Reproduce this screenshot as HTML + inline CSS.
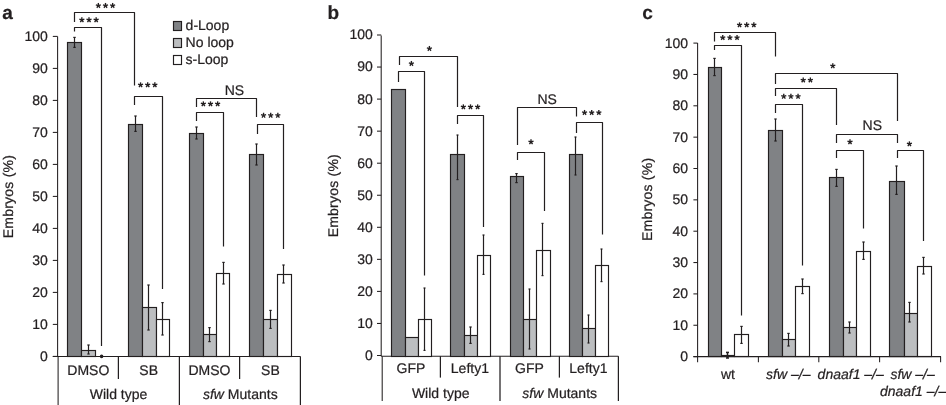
<!DOCTYPE html>
<html><head><meta charset="utf-8"><title>Figure</title>
<style>
html,body{margin:0;padding:0;background:#fff;}
body{width:946px;height:405px;overflow:hidden;}
svg{display:block;font-family:"Liberation Sans",sans-serif;will-change:transform;opacity:0.999;text-rendering:geometricPrecision;}
svg text{fill:#231f20;stroke:#231f20;stroke-width:0.22px;}
</style></head><body>
<svg width="946" height="405" viewBox="0 0 946 405">
<rect x="0" y="0" width="946" height="405" fill="#ffffff"/>
<text x="2.20" y="19.20" text-anchor="start" font-size="19" font-weight="bold" font-style="normal" >a</text>
<line x1="57.60" y1="36.40" x2="57.60" y2="356.40" stroke="#231f20" stroke-width="1.05"/>
<line x1="58.10" y1="356.40" x2="58.10" y2="405.00" stroke="#231f20" stroke-width="1.05"/>
<line x1="52.80" y1="356.40" x2="57.60" y2="356.40" stroke="#231f20" stroke-width="1.05"/>
<text x="47.80" y="360.90" text-anchor="end" font-size="14" font-weight="normal" font-style="normal" >0</text>
<line x1="52.80" y1="324.40" x2="57.60" y2="324.40" stroke="#231f20" stroke-width="1.05"/>
<text x="47.80" y="328.90" text-anchor="end" font-size="14" font-weight="normal" font-style="normal" >10</text>
<line x1="52.80" y1="292.40" x2="57.60" y2="292.40" stroke="#231f20" stroke-width="1.05"/>
<text x="47.80" y="296.90" text-anchor="end" font-size="14" font-weight="normal" font-style="normal" >20</text>
<line x1="52.80" y1="260.40" x2="57.60" y2="260.40" stroke="#231f20" stroke-width="1.05"/>
<text x="47.80" y="264.90" text-anchor="end" font-size="14" font-weight="normal" font-style="normal" >30</text>
<line x1="52.80" y1="228.40" x2="57.60" y2="228.40" stroke="#231f20" stroke-width="1.05"/>
<text x="47.80" y="232.90" text-anchor="end" font-size="14" font-weight="normal" font-style="normal" >40</text>
<line x1="52.80" y1="196.40" x2="57.60" y2="196.40" stroke="#231f20" stroke-width="1.05"/>
<text x="47.80" y="200.90" text-anchor="end" font-size="14" font-weight="normal" font-style="normal" >50</text>
<line x1="52.80" y1="164.40" x2="57.60" y2="164.40" stroke="#231f20" stroke-width="1.05"/>
<text x="47.80" y="168.90" text-anchor="end" font-size="14" font-weight="normal" font-style="normal" >60</text>
<line x1="52.80" y1="132.40" x2="57.60" y2="132.40" stroke="#231f20" stroke-width="1.05"/>
<text x="47.80" y="136.90" text-anchor="end" font-size="14" font-weight="normal" font-style="normal" >70</text>
<line x1="52.80" y1="100.40" x2="57.60" y2="100.40" stroke="#231f20" stroke-width="1.05"/>
<text x="47.80" y="104.90" text-anchor="end" font-size="14" font-weight="normal" font-style="normal" >80</text>
<line x1="52.80" y1="68.40" x2="57.60" y2="68.40" stroke="#231f20" stroke-width="1.05"/>
<text x="47.80" y="72.90" text-anchor="end" font-size="14" font-weight="normal" font-style="normal" >90</text>
<line x1="52.80" y1="36.40" x2="57.60" y2="36.40" stroke="#231f20" stroke-width="1.05"/>
<text x="47.80" y="40.90" text-anchor="end" font-size="14" font-weight="normal" font-style="normal" >100</text>
<line x1="52.80" y1="356.40" x2="300.40" y2="356.40" stroke="#231f20" stroke-width="1.05"/>
<text x="0.00" y="0.00" text-anchor="middle" font-size="14" font-weight="normal" font-style="normal" letter-spacing="0.22" transform="translate(12.6,196.6) rotate(-90)">Embryos (%)</text>
<line x1="118.40" y1="356.40" x2="118.40" y2="379.00" stroke="#231f20" stroke-width="1.25"/>
<line x1="239.60" y1="356.40" x2="239.60" y2="379.00" stroke="#231f20" stroke-width="1.25"/>
<line x1="179.40" y1="356.40" x2="179.40" y2="405.00" stroke="#231f20" stroke-width="1.25"/>
<line x1="300.40" y1="356.40" x2="300.40" y2="405.00" stroke="#231f20" stroke-width="1.25"/>
<rect x="67.50" y="42.50" width="14.00" height="314.00" fill="#808285" stroke="#231f20" stroke-width="1.15"/>
<rect x="81.50" y="350.50" width="14.00" height="6.00" fill="#bcbec0" stroke="#231f20" stroke-width="1.15"/>
<rect x="128.50" y="124.50" width="14.00" height="232.00" fill="#808285" stroke="#231f20" stroke-width="1.15"/>
<rect x="142.50" y="307.50" width="14.00" height="49.00" fill="#bcbec0" stroke="#231f20" stroke-width="1.15"/>
<rect x="156.50" y="319.50" width="13.00" height="37.00" fill="#ffffff" stroke="#231f20" stroke-width="1.15"/>
<rect x="189.50" y="133.50" width="14.00" height="223.00" fill="#808285" stroke="#231f20" stroke-width="1.15"/>
<rect x="203.50" y="334.50" width="13.00" height="22.00" fill="#bcbec0" stroke="#231f20" stroke-width="1.15"/>
<rect x="216.50" y="273.50" width="13.00" height="83.00" fill="#ffffff" stroke="#231f20" stroke-width="1.15"/>
<rect x="249.50" y="154.50" width="14.00" height="202.00" fill="#808285" stroke="#231f20" stroke-width="1.15"/>
<rect x="263.50" y="319.50" width="14.00" height="37.00" fill="#bcbec0" stroke="#231f20" stroke-width="1.15"/>
<rect x="277.50" y="274.50" width="14.00" height="82.00" fill="#ffffff" stroke="#231f20" stroke-width="1.15"/>
<line x1="74.50" y1="37.40" x2="74.50" y2="47.40" stroke="#231f20" stroke-width="1.2"/>
<line x1="73.30" y1="37.40" x2="75.70" y2="37.40" stroke="#231f20" stroke-width="1.2"/>
<line x1="73.30" y1="47.40" x2="75.70" y2="47.40" stroke="#231f20" stroke-width="1.2"/>
<line x1="88.50" y1="345.00" x2="88.50" y2="354.00" stroke="#231f20" stroke-width="1.2"/>
<line x1="87.30" y1="345.00" x2="89.70" y2="345.00" stroke="#231f20" stroke-width="1.2"/>
<line x1="87.30" y1="354.00" x2="89.70" y2="354.00" stroke="#231f20" stroke-width="1.2"/>
<circle cx="101.6" cy="356.4" r="1.8" fill="#231f20"/>
<line x1="135.50" y1="116.00" x2="135.50" y2="131.40" stroke="#231f20" stroke-width="1.2"/>
<line x1="134.30" y1="116.00" x2="136.70" y2="116.00" stroke="#231f20" stroke-width="1.2"/>
<line x1="134.30" y1="131.40" x2="136.70" y2="131.40" stroke="#231f20" stroke-width="1.2"/>
<line x1="148.50" y1="285.00" x2="148.50" y2="330.00" stroke="#231f20" stroke-width="1.2"/>
<line x1="147.30" y1="285.00" x2="149.70" y2="285.00" stroke="#231f20" stroke-width="1.2"/>
<line x1="147.30" y1="330.00" x2="149.70" y2="330.00" stroke="#231f20" stroke-width="1.2"/>
<line x1="162.50" y1="302.60" x2="162.50" y2="335.00" stroke="#231f20" stroke-width="1.2"/>
<line x1="161.30" y1="302.60" x2="163.70" y2="302.60" stroke="#231f20" stroke-width="1.2"/>
<line x1="161.30" y1="335.00" x2="163.70" y2="335.00" stroke="#231f20" stroke-width="1.2"/>
<line x1="196.50" y1="127.00" x2="196.50" y2="139.00" stroke="#231f20" stroke-width="1.2"/>
<line x1="195.30" y1="127.00" x2="197.70" y2="127.00" stroke="#231f20" stroke-width="1.2"/>
<line x1="195.30" y1="139.00" x2="197.70" y2="139.00" stroke="#231f20" stroke-width="1.2"/>
<line x1="209.50" y1="327.60" x2="209.50" y2="341.60" stroke="#231f20" stroke-width="1.2"/>
<line x1="208.30" y1="327.60" x2="210.70" y2="327.60" stroke="#231f20" stroke-width="1.2"/>
<line x1="208.30" y1="341.60" x2="210.70" y2="341.60" stroke="#231f20" stroke-width="1.2"/>
<line x1="223.50" y1="262.40" x2="223.50" y2="284.00" stroke="#231f20" stroke-width="1.2"/>
<line x1="222.30" y1="262.40" x2="224.70" y2="262.40" stroke="#231f20" stroke-width="1.2"/>
<line x1="222.30" y1="284.00" x2="224.70" y2="284.00" stroke="#231f20" stroke-width="1.2"/>
<line x1="256.50" y1="144.00" x2="256.50" y2="165.00" stroke="#231f20" stroke-width="1.2"/>
<line x1="255.30" y1="144.00" x2="257.70" y2="144.00" stroke="#231f20" stroke-width="1.2"/>
<line x1="255.30" y1="165.00" x2="257.70" y2="165.00" stroke="#231f20" stroke-width="1.2"/>
<line x1="270.50" y1="310.40" x2="270.50" y2="328.40" stroke="#231f20" stroke-width="1.2"/>
<line x1="269.30" y1="310.40" x2="271.70" y2="310.40" stroke="#231f20" stroke-width="1.2"/>
<line x1="269.30" y1="328.40" x2="271.70" y2="328.40" stroke="#231f20" stroke-width="1.2"/>
<line x1="283.50" y1="265.00" x2="283.50" y2="283.00" stroke="#231f20" stroke-width="1.2"/>
<line x1="282.30" y1="265.00" x2="284.70" y2="265.00" stroke="#231f20" stroke-width="1.2"/>
<line x1="282.30" y1="283.00" x2="284.70" y2="283.00" stroke="#231f20" stroke-width="1.2"/>
<polyline points="74.50,22.00 74.50,12.50 134.50,12.50 134.50,85.50" fill="none" stroke="#231f20" stroke-width="1.2" stroke-linejoin="round"/>
<polyline points="74.50,31.60 74.50,27.50 101.50,27.50 101.50,346.00" fill="none" stroke="#231f20" stroke-width="1.2" stroke-linejoin="round"/>
<polyline points="134.50,105.00 134.50,96.50 162.50,96.50 162.50,289.00" fill="none" stroke="#231f20" stroke-width="1.2" stroke-linejoin="round"/>
<polyline points="196.50,107.00 196.50,98.50 256.50,98.50 256.50,117.00" fill="none" stroke="#231f20" stroke-width="1.2" stroke-linejoin="round"/>
<polyline points="196.50,121.00 196.50,112.50 223.50,112.50 223.50,246.60" fill="none" stroke="#231f20" stroke-width="1.2" stroke-linejoin="round"/>
<polyline points="257.50,134.00 257.50,124.50 283.50,124.50 283.50,249.00" fill="none" stroke="#231f20" stroke-width="1.2" stroke-linejoin="round"/>
<line x1="98.35" y1="5.60" x2="98.35" y2="2.95" stroke="#231f20" stroke-width="1.35"/>
<line x1="98.35" y1="5.60" x2="100.87" y2="4.78" stroke="#231f20" stroke-width="1.35"/>
<line x1="98.35" y1="5.60" x2="99.91" y2="7.74" stroke="#231f20" stroke-width="1.35"/>
<line x1="98.35" y1="5.60" x2="96.79" y2="7.74" stroke="#231f20" stroke-width="1.35"/>
<line x1="98.35" y1="5.60" x2="95.83" y2="4.78" stroke="#231f20" stroke-width="1.35"/>
<line x1="105.50" y1="5.60" x2="105.50" y2="2.95" stroke="#231f20" stroke-width="1.35"/>
<line x1="105.50" y1="5.60" x2="108.02" y2="4.78" stroke="#231f20" stroke-width="1.35"/>
<line x1="105.50" y1="5.60" x2="107.06" y2="7.74" stroke="#231f20" stroke-width="1.35"/>
<line x1="105.50" y1="5.60" x2="103.94" y2="7.74" stroke="#231f20" stroke-width="1.35"/>
<line x1="105.50" y1="5.60" x2="102.98" y2="4.78" stroke="#231f20" stroke-width="1.35"/>
<line x1="112.65" y1="5.60" x2="112.65" y2="2.95" stroke="#231f20" stroke-width="1.35"/>
<line x1="112.65" y1="5.60" x2="115.17" y2="4.78" stroke="#231f20" stroke-width="1.35"/>
<line x1="112.65" y1="5.60" x2="114.21" y2="7.74" stroke="#231f20" stroke-width="1.35"/>
<line x1="112.65" y1="5.60" x2="111.09" y2="7.74" stroke="#231f20" stroke-width="1.35"/>
<line x1="112.65" y1="5.60" x2="110.13" y2="4.78" stroke="#231f20" stroke-width="1.35"/>
<line x1="81.85" y1="20.00" x2="81.85" y2="17.35" stroke="#231f20" stroke-width="1.35"/>
<line x1="81.85" y1="20.00" x2="84.37" y2="19.18" stroke="#231f20" stroke-width="1.35"/>
<line x1="81.85" y1="20.00" x2="83.41" y2="22.14" stroke="#231f20" stroke-width="1.35"/>
<line x1="81.85" y1="20.00" x2="80.29" y2="22.14" stroke="#231f20" stroke-width="1.35"/>
<line x1="81.85" y1="20.00" x2="79.33" y2="19.18" stroke="#231f20" stroke-width="1.35"/>
<line x1="89.00" y1="20.00" x2="89.00" y2="17.35" stroke="#231f20" stroke-width="1.35"/>
<line x1="89.00" y1="20.00" x2="91.52" y2="19.18" stroke="#231f20" stroke-width="1.35"/>
<line x1="89.00" y1="20.00" x2="90.56" y2="22.14" stroke="#231f20" stroke-width="1.35"/>
<line x1="89.00" y1="20.00" x2="87.44" y2="22.14" stroke="#231f20" stroke-width="1.35"/>
<line x1="89.00" y1="20.00" x2="86.48" y2="19.18" stroke="#231f20" stroke-width="1.35"/>
<line x1="96.15" y1="20.00" x2="96.15" y2="17.35" stroke="#231f20" stroke-width="1.35"/>
<line x1="96.15" y1="20.00" x2="98.67" y2="19.18" stroke="#231f20" stroke-width="1.35"/>
<line x1="96.15" y1="20.00" x2="97.71" y2="22.14" stroke="#231f20" stroke-width="1.35"/>
<line x1="96.15" y1="20.00" x2="94.59" y2="22.14" stroke="#231f20" stroke-width="1.35"/>
<line x1="96.15" y1="20.00" x2="93.63" y2="19.18" stroke="#231f20" stroke-width="1.35"/>
<line x1="140.55" y1="85.00" x2="140.55" y2="82.35" stroke="#231f20" stroke-width="1.35"/>
<line x1="140.55" y1="85.00" x2="143.07" y2="84.18" stroke="#231f20" stroke-width="1.35"/>
<line x1="140.55" y1="85.00" x2="142.11" y2="87.14" stroke="#231f20" stroke-width="1.35"/>
<line x1="140.55" y1="85.00" x2="138.99" y2="87.14" stroke="#231f20" stroke-width="1.35"/>
<line x1="140.55" y1="85.00" x2="138.03" y2="84.18" stroke="#231f20" stroke-width="1.35"/>
<line x1="147.70" y1="85.00" x2="147.70" y2="82.35" stroke="#231f20" stroke-width="1.35"/>
<line x1="147.70" y1="85.00" x2="150.22" y2="84.18" stroke="#231f20" stroke-width="1.35"/>
<line x1="147.70" y1="85.00" x2="149.26" y2="87.14" stroke="#231f20" stroke-width="1.35"/>
<line x1="147.70" y1="85.00" x2="146.14" y2="87.14" stroke="#231f20" stroke-width="1.35"/>
<line x1="147.70" y1="85.00" x2="145.18" y2="84.18" stroke="#231f20" stroke-width="1.35"/>
<line x1="154.85" y1="85.00" x2="154.85" y2="82.35" stroke="#231f20" stroke-width="1.35"/>
<line x1="154.85" y1="85.00" x2="157.37" y2="84.18" stroke="#231f20" stroke-width="1.35"/>
<line x1="154.85" y1="85.00" x2="156.41" y2="87.14" stroke="#231f20" stroke-width="1.35"/>
<line x1="154.85" y1="85.00" x2="153.29" y2="87.14" stroke="#231f20" stroke-width="1.35"/>
<line x1="154.85" y1="85.00" x2="152.33" y2="84.18" stroke="#231f20" stroke-width="1.35"/>
<line x1="203.35" y1="104.00" x2="203.35" y2="101.35" stroke="#231f20" stroke-width="1.35"/>
<line x1="203.35" y1="104.00" x2="205.87" y2="103.18" stroke="#231f20" stroke-width="1.35"/>
<line x1="203.35" y1="104.00" x2="204.91" y2="106.14" stroke="#231f20" stroke-width="1.35"/>
<line x1="203.35" y1="104.00" x2="201.79" y2="106.14" stroke="#231f20" stroke-width="1.35"/>
<line x1="203.35" y1="104.00" x2="200.83" y2="103.18" stroke="#231f20" stroke-width="1.35"/>
<line x1="210.50" y1="104.00" x2="210.50" y2="101.35" stroke="#231f20" stroke-width="1.35"/>
<line x1="210.50" y1="104.00" x2="213.02" y2="103.18" stroke="#231f20" stroke-width="1.35"/>
<line x1="210.50" y1="104.00" x2="212.06" y2="106.14" stroke="#231f20" stroke-width="1.35"/>
<line x1="210.50" y1="104.00" x2="208.94" y2="106.14" stroke="#231f20" stroke-width="1.35"/>
<line x1="210.50" y1="104.00" x2="207.98" y2="103.18" stroke="#231f20" stroke-width="1.35"/>
<line x1="217.65" y1="104.00" x2="217.65" y2="101.35" stroke="#231f20" stroke-width="1.35"/>
<line x1="217.65" y1="104.00" x2="220.17" y2="103.18" stroke="#231f20" stroke-width="1.35"/>
<line x1="217.65" y1="104.00" x2="219.21" y2="106.14" stroke="#231f20" stroke-width="1.35"/>
<line x1="217.65" y1="104.00" x2="216.09" y2="106.14" stroke="#231f20" stroke-width="1.35"/>
<line x1="217.65" y1="104.00" x2="215.13" y2="103.18" stroke="#231f20" stroke-width="1.35"/>
<line x1="263.55" y1="115.40" x2="263.55" y2="112.75" stroke="#231f20" stroke-width="1.35"/>
<line x1="263.55" y1="115.40" x2="266.07" y2="114.58" stroke="#231f20" stroke-width="1.35"/>
<line x1="263.55" y1="115.40" x2="265.11" y2="117.54" stroke="#231f20" stroke-width="1.35"/>
<line x1="263.55" y1="115.40" x2="261.99" y2="117.54" stroke="#231f20" stroke-width="1.35"/>
<line x1="263.55" y1="115.40" x2="261.03" y2="114.58" stroke="#231f20" stroke-width="1.35"/>
<line x1="270.70" y1="115.40" x2="270.70" y2="112.75" stroke="#231f20" stroke-width="1.35"/>
<line x1="270.70" y1="115.40" x2="273.22" y2="114.58" stroke="#231f20" stroke-width="1.35"/>
<line x1="270.70" y1="115.40" x2="272.26" y2="117.54" stroke="#231f20" stroke-width="1.35"/>
<line x1="270.70" y1="115.40" x2="269.14" y2="117.54" stroke="#231f20" stroke-width="1.35"/>
<line x1="270.70" y1="115.40" x2="268.18" y2="114.58" stroke="#231f20" stroke-width="1.35"/>
<line x1="277.85" y1="115.40" x2="277.85" y2="112.75" stroke="#231f20" stroke-width="1.35"/>
<line x1="277.85" y1="115.40" x2="280.37" y2="114.58" stroke="#231f20" stroke-width="1.35"/>
<line x1="277.85" y1="115.40" x2="279.41" y2="117.54" stroke="#231f20" stroke-width="1.35"/>
<line x1="277.85" y1="115.40" x2="276.29" y2="117.54" stroke="#231f20" stroke-width="1.35"/>
<line x1="277.85" y1="115.40" x2="275.33" y2="114.58" stroke="#231f20" stroke-width="1.35"/>
<text x="234.40" y="94.70" text-anchor="middle" font-size="14" font-weight="normal" font-style="normal" >NS</text>
<rect x="173.50" y="21.50" width="8.00" height="9.00" fill="#808285" stroke="#231f20" stroke-width="1.15"/>
<text x="185.60" y="30.10" text-anchor="start" font-size="14" font-weight="normal" font-style="normal" >d-Loop</text>
<rect x="173.50" y="38.50" width="8.00" height="9.00" fill="#bcbec0" stroke="#231f20" stroke-width="1.15"/>
<text x="185.60" y="47.10" text-anchor="start" font-size="14" font-weight="normal" font-style="normal" >No loop</text>
<rect x="173.50" y="55.50" width="8.00" height="9.00" fill="#ffffff" stroke="#231f20" stroke-width="1.15"/>
<text x="185.60" y="64.10" text-anchor="start" font-size="14" font-weight="normal" font-style="normal" >s-Loop</text>
<text x="88.30" y="374.50" text-anchor="middle" font-size="14" font-weight="normal" font-style="normal" >DMSO</text>
<text x="148.70" y="374.50" text-anchor="middle" font-size="14" font-weight="normal" font-style="normal" >SB</text>
<text x="209.50" y="374.50" text-anchor="middle" font-size="14" font-weight="normal" font-style="normal" >DMSO</text>
<text x="270.40" y="374.50" text-anchor="middle" font-size="14" font-weight="normal" font-style="normal" >SB</text>
<text x="118.50" y="399.00" text-anchor="middle" font-size="14" font-weight="normal" font-style="normal" >Wild type</text>
<text x="240.3" y="399" text-anchor="middle" font-size="14"><tspan font-style="italic">sfw</tspan> Mutants</text>
<text x="327.50" y="19.00" text-anchor="start" font-size="19" font-weight="bold" font-style="normal" >b</text>
<line x1="381.20" y1="35.50" x2="381.20" y2="356.20" stroke="#231f20" stroke-width="1.05"/>
<line x1="382.20" y1="356.20" x2="382.20" y2="401.00" stroke="#231f20" stroke-width="1.05"/>
<line x1="377.00" y1="355.50" x2="381.20" y2="355.50" stroke="#231f20" stroke-width="1.05"/>
<text x="372.80" y="359.90" text-anchor="end" font-size="14" font-weight="normal" font-style="normal" >0</text>
<line x1="377.00" y1="323.45" x2="381.20" y2="323.45" stroke="#231f20" stroke-width="1.05"/>
<text x="372.80" y="327.85" text-anchor="end" font-size="14" font-weight="normal" font-style="normal" >10</text>
<line x1="377.00" y1="291.40" x2="381.20" y2="291.40" stroke="#231f20" stroke-width="1.05"/>
<text x="372.80" y="295.80" text-anchor="end" font-size="14" font-weight="normal" font-style="normal" >20</text>
<line x1="377.00" y1="259.35" x2="381.20" y2="259.35" stroke="#231f20" stroke-width="1.05"/>
<text x="372.80" y="263.75" text-anchor="end" font-size="14" font-weight="normal" font-style="normal" >30</text>
<line x1="377.00" y1="227.30" x2="381.20" y2="227.30" stroke="#231f20" stroke-width="1.05"/>
<text x="372.80" y="231.70" text-anchor="end" font-size="14" font-weight="normal" font-style="normal" >40</text>
<line x1="377.00" y1="195.25" x2="381.20" y2="195.25" stroke="#231f20" stroke-width="1.05"/>
<text x="372.80" y="199.65" text-anchor="end" font-size="14" font-weight="normal" font-style="normal" >50</text>
<line x1="377.00" y1="163.20" x2="381.20" y2="163.20" stroke="#231f20" stroke-width="1.05"/>
<text x="372.80" y="167.60" text-anchor="end" font-size="14" font-weight="normal" font-style="normal" >60</text>
<line x1="377.00" y1="131.15" x2="381.20" y2="131.15" stroke="#231f20" stroke-width="1.05"/>
<text x="372.80" y="135.55" text-anchor="end" font-size="14" font-weight="normal" font-style="normal" >70</text>
<line x1="377.00" y1="99.10" x2="381.20" y2="99.10" stroke="#231f20" stroke-width="1.05"/>
<text x="372.80" y="103.50" text-anchor="end" font-size="14" font-weight="normal" font-style="normal" >80</text>
<line x1="377.00" y1="67.05" x2="381.20" y2="67.05" stroke="#231f20" stroke-width="1.05"/>
<text x="372.80" y="71.45" text-anchor="end" font-size="14" font-weight="normal" font-style="normal" >90</text>
<line x1="377.00" y1="35.00" x2="381.20" y2="35.00" stroke="#231f20" stroke-width="1.05"/>
<text x="372.80" y="39.40" text-anchor="end" font-size="14" font-weight="normal" font-style="normal" >100</text>
<line x1="381.20" y1="356.20" x2="618.40" y2="356.20" stroke="#231f20" stroke-width="1.05"/>
<text x="0.00" y="0.00" text-anchor="middle" font-size="14" font-weight="normal" font-style="normal" letter-spacing="0.22" transform="translate(338.3,195.7) rotate(-90)">Embryos (%)</text>
<line x1="440.40" y1="356.20" x2="440.40" y2="377.60" stroke="#231f20" stroke-width="1.25"/>
<line x1="559.40" y1="356.20" x2="559.40" y2="377.60" stroke="#231f20" stroke-width="1.25"/>
<line x1="500.00" y1="356.20" x2="500.00" y2="401.00" stroke="#231f20" stroke-width="1.25"/>
<line x1="618.40" y1="356.20" x2="618.40" y2="401.00" stroke="#231f20" stroke-width="1.25"/>
<rect x="391.50" y="89.50" width="14.00" height="267.00" fill="#808285" stroke="#231f20" stroke-width="1.15"/>
<rect x="405.50" y="337.50" width="13.00" height="19.00" fill="#bcbec0" stroke="#231f20" stroke-width="1.15"/>
<rect x="418.50" y="319.50" width="13.00" height="37.00" fill="#ffffff" stroke="#231f20" stroke-width="1.15"/>
<rect x="450.50" y="154.50" width="14.00" height="202.00" fill="#808285" stroke="#231f20" stroke-width="1.15"/>
<rect x="464.50" y="335.50" width="13.00" height="21.00" fill="#bcbec0" stroke="#231f20" stroke-width="1.15"/>
<rect x="477.50" y="255.50" width="13.00" height="101.00" fill="#ffffff" stroke="#231f20" stroke-width="1.15"/>
<rect x="510.50" y="176.50" width="13.00" height="180.00" fill="#808285" stroke="#231f20" stroke-width="1.15"/>
<rect x="523.50" y="319.50" width="13.00" height="37.00" fill="#bcbec0" stroke="#231f20" stroke-width="1.15"/>
<rect x="536.50" y="250.50" width="14.00" height="106.00" fill="#ffffff" stroke="#231f20" stroke-width="1.15"/>
<rect x="569.50" y="154.50" width="13.00" height="202.00" fill="#808285" stroke="#231f20" stroke-width="1.15"/>
<rect x="582.50" y="328.50" width="13.00" height="28.00" fill="#bcbec0" stroke="#231f20" stroke-width="1.15"/>
<rect x="595.50" y="265.50" width="13.00" height="91.00" fill="#ffffff" stroke="#231f20" stroke-width="1.15"/>
<line x1="424.50" y1="288.00" x2="424.50" y2="350.40" stroke="#231f20" stroke-width="1.2"/>
<line x1="423.50" y1="288.00" x2="425.50" y2="288.00" stroke="#231f20" stroke-width="1.2"/>
<line x1="423.50" y1="350.40" x2="425.50" y2="350.40" stroke="#231f20" stroke-width="1.2"/>
<line x1="457.50" y1="135.00" x2="457.50" y2="179.60" stroke="#231f20" stroke-width="1.2"/>
<line x1="456.50" y1="135.00" x2="458.50" y2="135.00" stroke="#231f20" stroke-width="1.2"/>
<line x1="456.50" y1="179.60" x2="458.50" y2="179.60" stroke="#231f20" stroke-width="1.2"/>
<line x1="470.50" y1="327.00" x2="470.50" y2="343.40" stroke="#231f20" stroke-width="1.2"/>
<line x1="469.30" y1="327.00" x2="471.70" y2="327.00" stroke="#231f20" stroke-width="1.2"/>
<line x1="469.30" y1="343.40" x2="471.70" y2="343.40" stroke="#231f20" stroke-width="1.2"/>
<line x1="483.50" y1="235.00" x2="483.50" y2="274.40" stroke="#231f20" stroke-width="1.2"/>
<line x1="482.50" y1="235.00" x2="484.50" y2="235.00" stroke="#231f20" stroke-width="1.2"/>
<line x1="482.50" y1="274.40" x2="484.50" y2="274.40" stroke="#231f20" stroke-width="1.2"/>
<line x1="516.50" y1="173.60" x2="516.50" y2="182.60" stroke="#231f20" stroke-width="1.2"/>
<line x1="515.30" y1="173.60" x2="517.70" y2="173.60" stroke="#231f20" stroke-width="1.2"/>
<line x1="515.30" y1="182.60" x2="517.70" y2="182.60" stroke="#231f20" stroke-width="1.2"/>
<line x1="529.50" y1="289.00" x2="529.50" y2="349.00" stroke="#231f20" stroke-width="1.2"/>
<line x1="528.50" y1="289.00" x2="530.50" y2="289.00" stroke="#231f20" stroke-width="1.2"/>
<line x1="528.50" y1="349.00" x2="530.50" y2="349.00" stroke="#231f20" stroke-width="1.2"/>
<line x1="542.50" y1="223.40" x2="542.50" y2="275.60" stroke="#231f20" stroke-width="1.2"/>
<line x1="541.50" y1="223.40" x2="543.50" y2="223.40" stroke="#231f20" stroke-width="1.2"/>
<line x1="541.50" y1="275.60" x2="543.50" y2="275.60" stroke="#231f20" stroke-width="1.2"/>
<line x1="575.50" y1="137.00" x2="575.50" y2="175.00" stroke="#231f20" stroke-width="1.2"/>
<line x1="574.50" y1="137.00" x2="576.50" y2="137.00" stroke="#231f20" stroke-width="1.2"/>
<line x1="574.50" y1="175.00" x2="576.50" y2="175.00" stroke="#231f20" stroke-width="1.2"/>
<line x1="588.50" y1="315.00" x2="588.50" y2="343.00" stroke="#231f20" stroke-width="1.2"/>
<line x1="587.50" y1="315.00" x2="589.50" y2="315.00" stroke="#231f20" stroke-width="1.2"/>
<line x1="587.50" y1="343.00" x2="589.50" y2="343.00" stroke="#231f20" stroke-width="1.2"/>
<line x1="601.50" y1="249.00" x2="601.50" y2="281.60" stroke="#231f20" stroke-width="1.2"/>
<line x1="600.50" y1="249.00" x2="602.50" y2="249.00" stroke="#231f20" stroke-width="1.2"/>
<line x1="600.50" y1="281.60" x2="602.50" y2="281.60" stroke="#231f20" stroke-width="1.2"/>
<polyline points="399.50,65.00 399.50,56.50 457.50,56.50 457.50,107.00" fill="none" stroke="#231f20" stroke-width="1.2" stroke-linejoin="round"/>
<polyline points="398.50,82.00 398.50,71.50 424.50,71.50 424.50,275.40" fill="none" stroke="#231f20" stroke-width="1.2" stroke-linejoin="round"/>
<polyline points="457.50,124.00 457.50,115.50 483.50,115.50 483.50,227.00" fill="none" stroke="#231f20" stroke-width="1.2" stroke-linejoin="round"/>
<polyline points="517.50,145.00 517.50,107.50 576.50,107.50 576.50,116.60" fill="none" stroke="#231f20" stroke-width="1.2" stroke-linejoin="round"/>
<polyline points="517.50,160.00 517.50,152.50 544.50,152.50 544.50,211.00" fill="none" stroke="#231f20" stroke-width="1.2" stroke-linejoin="round"/>
<polyline points="576.50,133.00 576.50,122.50 602.50,122.50 602.50,234.40" fill="none" stroke="#231f20" stroke-width="1.2" stroke-linejoin="round"/>
<line x1="429.40" y1="48.60" x2="429.40" y2="45.95" stroke="#231f20" stroke-width="1.35"/>
<line x1="429.40" y1="48.60" x2="431.92" y2="47.78" stroke="#231f20" stroke-width="1.35"/>
<line x1="429.40" y1="48.60" x2="430.96" y2="50.74" stroke="#231f20" stroke-width="1.35"/>
<line x1="429.40" y1="48.60" x2="427.84" y2="50.74" stroke="#231f20" stroke-width="1.35"/>
<line x1="429.40" y1="48.60" x2="426.88" y2="47.78" stroke="#231f20" stroke-width="1.35"/>
<line x1="411.40" y1="63.60" x2="411.40" y2="60.95" stroke="#231f20" stroke-width="1.35"/>
<line x1="411.40" y1="63.60" x2="413.92" y2="62.78" stroke="#231f20" stroke-width="1.35"/>
<line x1="411.40" y1="63.60" x2="412.96" y2="65.74" stroke="#231f20" stroke-width="1.35"/>
<line x1="411.40" y1="63.60" x2="409.84" y2="65.74" stroke="#231f20" stroke-width="1.35"/>
<line x1="411.40" y1="63.60" x2="408.88" y2="62.78" stroke="#231f20" stroke-width="1.35"/>
<line x1="463.35" y1="107.00" x2="463.35" y2="104.35" stroke="#231f20" stroke-width="1.35"/>
<line x1="463.35" y1="107.00" x2="465.87" y2="106.18" stroke="#231f20" stroke-width="1.35"/>
<line x1="463.35" y1="107.00" x2="464.91" y2="109.14" stroke="#231f20" stroke-width="1.35"/>
<line x1="463.35" y1="107.00" x2="461.79" y2="109.14" stroke="#231f20" stroke-width="1.35"/>
<line x1="463.35" y1="107.00" x2="460.83" y2="106.18" stroke="#231f20" stroke-width="1.35"/>
<line x1="470.50" y1="107.00" x2="470.50" y2="104.35" stroke="#231f20" stroke-width="1.35"/>
<line x1="470.50" y1="107.00" x2="473.02" y2="106.18" stroke="#231f20" stroke-width="1.35"/>
<line x1="470.50" y1="107.00" x2="472.06" y2="109.14" stroke="#231f20" stroke-width="1.35"/>
<line x1="470.50" y1="107.00" x2="468.94" y2="109.14" stroke="#231f20" stroke-width="1.35"/>
<line x1="470.50" y1="107.00" x2="467.98" y2="106.18" stroke="#231f20" stroke-width="1.35"/>
<line x1="477.65" y1="107.00" x2="477.65" y2="104.35" stroke="#231f20" stroke-width="1.35"/>
<line x1="477.65" y1="107.00" x2="480.17" y2="106.18" stroke="#231f20" stroke-width="1.35"/>
<line x1="477.65" y1="107.00" x2="479.21" y2="109.14" stroke="#231f20" stroke-width="1.35"/>
<line x1="477.65" y1="107.00" x2="476.09" y2="109.14" stroke="#231f20" stroke-width="1.35"/>
<line x1="477.65" y1="107.00" x2="475.13" y2="106.18" stroke="#231f20" stroke-width="1.35"/>
<line x1="531.00" y1="142.00" x2="531.00" y2="139.35" stroke="#231f20" stroke-width="1.35"/>
<line x1="531.00" y1="142.00" x2="533.52" y2="141.18" stroke="#231f20" stroke-width="1.35"/>
<line x1="531.00" y1="142.00" x2="532.56" y2="144.14" stroke="#231f20" stroke-width="1.35"/>
<line x1="531.00" y1="142.00" x2="529.44" y2="144.14" stroke="#231f20" stroke-width="1.35"/>
<line x1="531.00" y1="142.00" x2="528.48" y2="141.18" stroke="#231f20" stroke-width="1.35"/>
<line x1="584.55" y1="112.60" x2="584.55" y2="109.95" stroke="#231f20" stroke-width="1.35"/>
<line x1="584.55" y1="112.60" x2="587.07" y2="111.78" stroke="#231f20" stroke-width="1.35"/>
<line x1="584.55" y1="112.60" x2="586.11" y2="114.74" stroke="#231f20" stroke-width="1.35"/>
<line x1="584.55" y1="112.60" x2="582.99" y2="114.74" stroke="#231f20" stroke-width="1.35"/>
<line x1="584.55" y1="112.60" x2="582.03" y2="111.78" stroke="#231f20" stroke-width="1.35"/>
<line x1="591.70" y1="112.60" x2="591.70" y2="109.95" stroke="#231f20" stroke-width="1.35"/>
<line x1="591.70" y1="112.60" x2="594.22" y2="111.78" stroke="#231f20" stroke-width="1.35"/>
<line x1="591.70" y1="112.60" x2="593.26" y2="114.74" stroke="#231f20" stroke-width="1.35"/>
<line x1="591.70" y1="112.60" x2="590.14" y2="114.74" stroke="#231f20" stroke-width="1.35"/>
<line x1="591.70" y1="112.60" x2="589.18" y2="111.78" stroke="#231f20" stroke-width="1.35"/>
<line x1="598.85" y1="112.60" x2="598.85" y2="109.95" stroke="#231f20" stroke-width="1.35"/>
<line x1="598.85" y1="112.60" x2="601.37" y2="111.78" stroke="#231f20" stroke-width="1.35"/>
<line x1="598.85" y1="112.60" x2="600.41" y2="114.74" stroke="#231f20" stroke-width="1.35"/>
<line x1="598.85" y1="112.60" x2="597.29" y2="114.74" stroke="#231f20" stroke-width="1.35"/>
<line x1="598.85" y1="112.60" x2="596.33" y2="111.78" stroke="#231f20" stroke-width="1.35"/>
<text x="547.20" y="103.50" text-anchor="middle" font-size="14" font-weight="normal" font-style="normal" >NS</text>
<text x="411.00" y="373.00" text-anchor="middle" font-size="14" font-weight="normal" font-style="normal" >GFP</text>
<text x="469.90" y="373.00" text-anchor="middle" font-size="14" font-weight="normal" font-style="normal" >Lefty1</text>
<text x="529.50" y="373.00" text-anchor="middle" font-size="14" font-weight="normal" font-style="normal" >GFP</text>
<text x="588.40" y="373.00" text-anchor="middle" font-size="14" font-weight="normal" font-style="normal" >Lefty1</text>
<text x="440.70" y="397.60" text-anchor="middle" font-size="14" font-weight="normal" font-style="normal" >Wild type</text>
<text x="559.7" y="397.6" text-anchor="middle" font-size="14"><tspan font-style="italic">sfw</tspan> Mutants</text>
<text x="642.30" y="19.30" text-anchor="start" font-size="19" font-weight="bold" font-style="normal" >c</text>
<line x1="697.60" y1="43.00" x2="697.60" y2="362.20" stroke="#231f20" stroke-width="1.05"/>
<line x1="693.40" y1="356.60" x2="697.60" y2="356.60" stroke="#231f20" stroke-width="1.05"/>
<text x="688.00" y="361.10" text-anchor="end" font-size="14" font-weight="normal" font-style="normal" >0</text>
<line x1="693.40" y1="325.25" x2="697.60" y2="325.25" stroke="#231f20" stroke-width="1.05"/>
<text x="688.00" y="329.75" text-anchor="end" font-size="14" font-weight="normal" font-style="normal" >10</text>
<line x1="693.40" y1="293.90" x2="697.60" y2="293.90" stroke="#231f20" stroke-width="1.05"/>
<text x="688.00" y="298.40" text-anchor="end" font-size="14" font-weight="normal" font-style="normal" >20</text>
<line x1="693.40" y1="262.55" x2="697.60" y2="262.55" stroke="#231f20" stroke-width="1.05"/>
<text x="688.00" y="267.05" text-anchor="end" font-size="14" font-weight="normal" font-style="normal" >30</text>
<line x1="693.40" y1="231.20" x2="697.60" y2="231.20" stroke="#231f20" stroke-width="1.05"/>
<text x="688.00" y="235.70" text-anchor="end" font-size="14" font-weight="normal" font-style="normal" >40</text>
<line x1="693.40" y1="199.85" x2="697.60" y2="199.85" stroke="#231f20" stroke-width="1.05"/>
<text x="688.00" y="204.35" text-anchor="end" font-size="14" font-weight="normal" font-style="normal" >50</text>
<line x1="693.40" y1="168.50" x2="697.60" y2="168.50" stroke="#231f20" stroke-width="1.05"/>
<text x="688.00" y="173.00" text-anchor="end" font-size="14" font-weight="normal" font-style="normal" >60</text>
<line x1="693.40" y1="137.15" x2="697.60" y2="137.15" stroke="#231f20" stroke-width="1.05"/>
<text x="688.00" y="141.65" text-anchor="end" font-size="14" font-weight="normal" font-style="normal" >70</text>
<line x1="693.40" y1="105.80" x2="697.60" y2="105.80" stroke="#231f20" stroke-width="1.05"/>
<text x="688.00" y="110.30" text-anchor="end" font-size="14" font-weight="normal" font-style="normal" >80</text>
<line x1="693.40" y1="74.45" x2="697.60" y2="74.45" stroke="#231f20" stroke-width="1.05"/>
<text x="688.00" y="78.95" text-anchor="end" font-size="14" font-weight="normal" font-style="normal" >90</text>
<line x1="693.40" y1="43.10" x2="697.60" y2="43.10" stroke="#231f20" stroke-width="1.05"/>
<text x="688.00" y="47.60" text-anchor="end" font-size="14" font-weight="normal" font-style="normal" >100</text>
<line x1="693.40" y1="356.60" x2="941.00" y2="356.60" stroke="#231f20" stroke-width="1.25"/>
<line x1="758.40" y1="356.60" x2="758.40" y2="362.20" stroke="#231f20" stroke-width="1.05"/>
<line x1="818.80" y1="356.60" x2="818.80" y2="362.20" stroke="#231f20" stroke-width="1.05"/>
<line x1="879.60" y1="356.60" x2="879.60" y2="362.20" stroke="#231f20" stroke-width="1.05"/>
<line x1="940.60" y1="356.60" x2="940.60" y2="362.20" stroke="#231f20" stroke-width="1.05"/>
<text x="0.00" y="0.00" text-anchor="middle" font-size="14" font-weight="normal" font-style="normal" letter-spacing="0.22" transform="translate(652.4,199.4) rotate(-90)">Embryos (%)</text>
<rect x="708.50" y="67.50" width="13.00" height="289.00" fill="#808285" stroke="#231f20" stroke-width="1.15"/>
<rect x="721.50" y="355.50" width="13.00" height="1.00" fill="#bcbec0" stroke="#231f20" stroke-width="1.15"/>
<rect x="734.50" y="334.50" width="14.00" height="22.00" fill="#ffffff" stroke="#231f20" stroke-width="1.15"/>
<rect x="768.50" y="130.50" width="14.00" height="226.00" fill="#808285" stroke="#231f20" stroke-width="1.15"/>
<rect x="782.50" y="339.50" width="13.00" height="17.00" fill="#bcbec0" stroke="#231f20" stroke-width="1.15"/>
<rect x="795.50" y="286.50" width="14.00" height="70.00" fill="#ffffff" stroke="#231f20" stroke-width="1.15"/>
<rect x="829.50" y="177.50" width="14.00" height="179.00" fill="#808285" stroke="#231f20" stroke-width="1.15"/>
<rect x="843.50" y="327.50" width="13.00" height="29.00" fill="#bcbec0" stroke="#231f20" stroke-width="1.15"/>
<rect x="856.50" y="251.50" width="14.00" height="105.00" fill="#ffffff" stroke="#231f20" stroke-width="1.15"/>
<rect x="889.50" y="181.50" width="15.00" height="175.00" fill="#808285" stroke="#231f20" stroke-width="1.15"/>
<rect x="904.50" y="313.50" width="13.00" height="43.00" fill="#bcbec0" stroke="#231f20" stroke-width="1.15"/>
<rect x="917.50" y="266.50" width="14.00" height="90.00" fill="#ffffff" stroke="#231f20" stroke-width="1.15"/>
<line x1="714.50" y1="58.40" x2="714.50" y2="75.60" stroke="#231f20" stroke-width="1.2"/>
<line x1="713.30" y1="58.40" x2="715.70" y2="58.40" stroke="#231f20" stroke-width="1.2"/>
<line x1="713.30" y1="75.60" x2="715.70" y2="75.60" stroke="#231f20" stroke-width="1.2"/>
<line x1="727.50" y1="352.40" x2="727.50" y2="358.00" stroke="#231f20" stroke-width="1.5"/>
<line x1="726.00" y1="352.40" x2="729.00" y2="352.40" stroke="#231f20" stroke-width="1.5"/>
<line x1="726.00" y1="358.00" x2="729.00" y2="358.00" stroke="#231f20" stroke-width="1.5"/>
<line x1="741.50" y1="326.40" x2="741.50" y2="343.40" stroke="#231f20" stroke-width="1.2"/>
<line x1="740.30" y1="326.40" x2="742.70" y2="326.40" stroke="#231f20" stroke-width="1.2"/>
<line x1="740.30" y1="343.40" x2="742.70" y2="343.40" stroke="#231f20" stroke-width="1.2"/>
<line x1="775.50" y1="119.00" x2="775.50" y2="141.00" stroke="#231f20" stroke-width="1.2"/>
<line x1="774.30" y1="119.00" x2="776.70" y2="119.00" stroke="#231f20" stroke-width="1.2"/>
<line x1="774.30" y1="141.00" x2="776.70" y2="141.00" stroke="#231f20" stroke-width="1.2"/>
<line x1="788.50" y1="333.40" x2="788.50" y2="346.00" stroke="#231f20" stroke-width="1.2"/>
<line x1="787.30" y1="333.40" x2="789.70" y2="333.40" stroke="#231f20" stroke-width="1.2"/>
<line x1="787.30" y1="346.00" x2="789.70" y2="346.00" stroke="#231f20" stroke-width="1.2"/>
<line x1="802.50" y1="279.00" x2="802.50" y2="293.60" stroke="#231f20" stroke-width="1.2"/>
<line x1="801.30" y1="279.00" x2="803.70" y2="279.00" stroke="#231f20" stroke-width="1.2"/>
<line x1="801.30" y1="293.60" x2="803.70" y2="293.60" stroke="#231f20" stroke-width="1.2"/>
<line x1="836.50" y1="169.40" x2="836.50" y2="186.40" stroke="#231f20" stroke-width="1.2"/>
<line x1="835.30" y1="169.40" x2="837.70" y2="169.40" stroke="#231f20" stroke-width="1.2"/>
<line x1="835.30" y1="186.40" x2="837.70" y2="186.40" stroke="#231f20" stroke-width="1.2"/>
<line x1="849.50" y1="322.00" x2="849.50" y2="333.00" stroke="#231f20" stroke-width="1.2"/>
<line x1="848.30" y1="322.00" x2="850.70" y2="322.00" stroke="#231f20" stroke-width="1.2"/>
<line x1="848.30" y1="333.00" x2="850.70" y2="333.00" stroke="#231f20" stroke-width="1.2"/>
<line x1="863.50" y1="242.00" x2="863.50" y2="259.40" stroke="#231f20" stroke-width="1.2"/>
<line x1="862.30" y1="242.00" x2="864.70" y2="242.00" stroke="#231f20" stroke-width="1.2"/>
<line x1="862.30" y1="259.40" x2="864.70" y2="259.40" stroke="#231f20" stroke-width="1.2"/>
<line x1="896.50" y1="166.00" x2="896.50" y2="194.40" stroke="#231f20" stroke-width="1.2"/>
<line x1="895.30" y1="166.00" x2="897.70" y2="166.00" stroke="#231f20" stroke-width="1.2"/>
<line x1="895.30" y1="194.40" x2="897.70" y2="194.40" stroke="#231f20" stroke-width="1.2"/>
<line x1="909.50" y1="302.40" x2="909.50" y2="322.00" stroke="#231f20" stroke-width="1.2"/>
<line x1="908.30" y1="302.40" x2="910.70" y2="302.40" stroke="#231f20" stroke-width="1.2"/>
<line x1="908.30" y1="322.00" x2="910.70" y2="322.00" stroke="#231f20" stroke-width="1.2"/>
<line x1="923.50" y1="257.40" x2="923.50" y2="274.00" stroke="#231f20" stroke-width="1.2"/>
<line x1="922.30" y1="257.40" x2="924.70" y2="257.40" stroke="#231f20" stroke-width="1.2"/>
<line x1="922.30" y1="274.00" x2="924.70" y2="274.00" stroke="#231f20" stroke-width="1.2"/>
<polyline points="714.50,41.40 714.50,32.50 775.50,32.50 775.50,56.60" fill="none" stroke="#231f20" stroke-width="1.2" stroke-linejoin="round"/>
<polyline points="714.50,50.00 714.50,45.50 741.50,45.50 741.50,315.40" fill="none" stroke="#231f20" stroke-width="1.2" stroke-linejoin="round"/>
<polyline points="775.50,84.00 775.50,73.50 897.50,73.50 897.50,121.00" fill="none" stroke="#231f20" stroke-width="1.2" stroke-linejoin="round"/>
<polyline points="775.50,96.00 775.50,88.50 836.50,88.50 836.50,125.00" fill="none" stroke="#231f20" stroke-width="1.2" stroke-linejoin="round"/>
<polyline points="775.50,113.00 775.50,104.50 802.50,104.50 802.50,265.60" fill="none" stroke="#231f20" stroke-width="1.2" stroke-linejoin="round"/>
<polyline points="836.50,143.00 836.50,134.50 897.50,134.50 897.50,143.00" fill="none" stroke="#231f20" stroke-width="1.2" stroke-linejoin="round"/>
<polyline points="836.50,158.00 836.50,150.50 863.50,150.50 863.50,228.40" fill="none" stroke="#231f20" stroke-width="1.2" stroke-linejoin="round"/>
<polyline points="897.50,158.00 897.50,150.50 923.50,150.50 923.50,241.00" fill="none" stroke="#231f20" stroke-width="1.2" stroke-linejoin="round"/>
<line x1="739.55" y1="25.00" x2="739.55" y2="22.35" stroke="#231f20" stroke-width="1.35"/>
<line x1="739.55" y1="25.00" x2="742.07" y2="24.18" stroke="#231f20" stroke-width="1.35"/>
<line x1="739.55" y1="25.00" x2="741.11" y2="27.14" stroke="#231f20" stroke-width="1.35"/>
<line x1="739.55" y1="25.00" x2="737.99" y2="27.14" stroke="#231f20" stroke-width="1.35"/>
<line x1="739.55" y1="25.00" x2="737.03" y2="24.18" stroke="#231f20" stroke-width="1.35"/>
<line x1="746.70" y1="25.00" x2="746.70" y2="22.35" stroke="#231f20" stroke-width="1.35"/>
<line x1="746.70" y1="25.00" x2="749.22" y2="24.18" stroke="#231f20" stroke-width="1.35"/>
<line x1="746.70" y1="25.00" x2="748.26" y2="27.14" stroke="#231f20" stroke-width="1.35"/>
<line x1="746.70" y1="25.00" x2="745.14" y2="27.14" stroke="#231f20" stroke-width="1.35"/>
<line x1="746.70" y1="25.00" x2="744.18" y2="24.18" stroke="#231f20" stroke-width="1.35"/>
<line x1="753.85" y1="25.00" x2="753.85" y2="22.35" stroke="#231f20" stroke-width="1.35"/>
<line x1="753.85" y1="25.00" x2="756.37" y2="24.18" stroke="#231f20" stroke-width="1.35"/>
<line x1="753.85" y1="25.00" x2="755.41" y2="27.14" stroke="#231f20" stroke-width="1.35"/>
<line x1="753.85" y1="25.00" x2="752.29" y2="27.14" stroke="#231f20" stroke-width="1.35"/>
<line x1="753.85" y1="25.00" x2="751.33" y2="24.18" stroke="#231f20" stroke-width="1.35"/>
<line x1="722.75" y1="37.60" x2="722.75" y2="34.95" stroke="#231f20" stroke-width="1.35"/>
<line x1="722.75" y1="37.60" x2="725.27" y2="36.78" stroke="#231f20" stroke-width="1.35"/>
<line x1="722.75" y1="37.60" x2="724.31" y2="39.74" stroke="#231f20" stroke-width="1.35"/>
<line x1="722.75" y1="37.60" x2="721.19" y2="39.74" stroke="#231f20" stroke-width="1.35"/>
<line x1="722.75" y1="37.60" x2="720.23" y2="36.78" stroke="#231f20" stroke-width="1.35"/>
<line x1="729.90" y1="37.60" x2="729.90" y2="34.95" stroke="#231f20" stroke-width="1.35"/>
<line x1="729.90" y1="37.60" x2="732.42" y2="36.78" stroke="#231f20" stroke-width="1.35"/>
<line x1="729.90" y1="37.60" x2="731.46" y2="39.74" stroke="#231f20" stroke-width="1.35"/>
<line x1="729.90" y1="37.60" x2="728.34" y2="39.74" stroke="#231f20" stroke-width="1.35"/>
<line x1="729.90" y1="37.60" x2="727.38" y2="36.78" stroke="#231f20" stroke-width="1.35"/>
<line x1="737.05" y1="37.60" x2="737.05" y2="34.95" stroke="#231f20" stroke-width="1.35"/>
<line x1="737.05" y1="37.60" x2="739.57" y2="36.78" stroke="#231f20" stroke-width="1.35"/>
<line x1="737.05" y1="37.60" x2="738.61" y2="39.74" stroke="#231f20" stroke-width="1.35"/>
<line x1="737.05" y1="37.60" x2="735.49" y2="39.74" stroke="#231f20" stroke-width="1.35"/>
<line x1="737.05" y1="37.60" x2="734.53" y2="36.78" stroke="#231f20" stroke-width="1.35"/>
<line x1="832.80" y1="65.90" x2="832.80" y2="63.25" stroke="#231f20" stroke-width="1.35"/>
<line x1="832.80" y1="65.90" x2="835.32" y2="65.08" stroke="#231f20" stroke-width="1.35"/>
<line x1="832.80" y1="65.90" x2="834.36" y2="68.04" stroke="#231f20" stroke-width="1.35"/>
<line x1="832.80" y1="65.90" x2="831.24" y2="68.04" stroke="#231f20" stroke-width="1.35"/>
<line x1="832.80" y1="65.90" x2="830.28" y2="65.08" stroke="#231f20" stroke-width="1.35"/>
<line x1="803.22" y1="80.10" x2="803.22" y2="77.45" stroke="#231f20" stroke-width="1.35"/>
<line x1="803.22" y1="80.10" x2="805.75" y2="79.28" stroke="#231f20" stroke-width="1.35"/>
<line x1="803.22" y1="80.10" x2="804.78" y2="82.24" stroke="#231f20" stroke-width="1.35"/>
<line x1="803.22" y1="80.10" x2="801.67" y2="82.24" stroke="#231f20" stroke-width="1.35"/>
<line x1="803.22" y1="80.10" x2="800.70" y2="79.28" stroke="#231f20" stroke-width="1.35"/>
<line x1="810.38" y1="80.10" x2="810.38" y2="77.45" stroke="#231f20" stroke-width="1.35"/>
<line x1="810.38" y1="80.10" x2="812.90" y2="79.28" stroke="#231f20" stroke-width="1.35"/>
<line x1="810.38" y1="80.10" x2="811.93" y2="82.24" stroke="#231f20" stroke-width="1.35"/>
<line x1="810.38" y1="80.10" x2="808.82" y2="82.24" stroke="#231f20" stroke-width="1.35"/>
<line x1="810.38" y1="80.10" x2="807.85" y2="79.28" stroke="#231f20" stroke-width="1.35"/>
<line x1="783.75" y1="96.40" x2="783.75" y2="93.75" stroke="#231f20" stroke-width="1.35"/>
<line x1="783.75" y1="96.40" x2="786.27" y2="95.58" stroke="#231f20" stroke-width="1.35"/>
<line x1="783.75" y1="96.40" x2="785.31" y2="98.54" stroke="#231f20" stroke-width="1.35"/>
<line x1="783.75" y1="96.40" x2="782.19" y2="98.54" stroke="#231f20" stroke-width="1.35"/>
<line x1="783.75" y1="96.40" x2="781.23" y2="95.58" stroke="#231f20" stroke-width="1.35"/>
<line x1="790.90" y1="96.40" x2="790.90" y2="93.75" stroke="#231f20" stroke-width="1.35"/>
<line x1="790.90" y1="96.40" x2="793.42" y2="95.58" stroke="#231f20" stroke-width="1.35"/>
<line x1="790.90" y1="96.40" x2="792.46" y2="98.54" stroke="#231f20" stroke-width="1.35"/>
<line x1="790.90" y1="96.40" x2="789.34" y2="98.54" stroke="#231f20" stroke-width="1.35"/>
<line x1="790.90" y1="96.40" x2="788.38" y2="95.58" stroke="#231f20" stroke-width="1.35"/>
<line x1="798.05" y1="96.40" x2="798.05" y2="93.75" stroke="#231f20" stroke-width="1.35"/>
<line x1="798.05" y1="96.40" x2="800.57" y2="95.58" stroke="#231f20" stroke-width="1.35"/>
<line x1="798.05" y1="96.40" x2="799.61" y2="98.54" stroke="#231f20" stroke-width="1.35"/>
<line x1="798.05" y1="96.40" x2="796.49" y2="98.54" stroke="#231f20" stroke-width="1.35"/>
<line x1="798.05" y1="96.40" x2="795.53" y2="95.58" stroke="#231f20" stroke-width="1.35"/>
<line x1="850.00" y1="142.00" x2="850.00" y2="139.35" stroke="#231f20" stroke-width="1.35"/>
<line x1="850.00" y1="142.00" x2="852.52" y2="141.18" stroke="#231f20" stroke-width="1.35"/>
<line x1="850.00" y1="142.00" x2="851.56" y2="144.14" stroke="#231f20" stroke-width="1.35"/>
<line x1="850.00" y1="142.00" x2="848.44" y2="144.14" stroke="#231f20" stroke-width="1.35"/>
<line x1="850.00" y1="142.00" x2="847.48" y2="141.18" stroke="#231f20" stroke-width="1.35"/>
<line x1="909.40" y1="144.00" x2="909.40" y2="141.35" stroke="#231f20" stroke-width="1.35"/>
<line x1="909.40" y1="144.00" x2="911.92" y2="143.18" stroke="#231f20" stroke-width="1.35"/>
<line x1="909.40" y1="144.00" x2="910.96" y2="146.14" stroke="#231f20" stroke-width="1.35"/>
<line x1="909.40" y1="144.00" x2="907.84" y2="146.14" stroke="#231f20" stroke-width="1.35"/>
<line x1="909.40" y1="144.00" x2="906.88" y2="143.18" stroke="#231f20" stroke-width="1.35"/>
<text x="872.30" y="130.00" text-anchor="middle" font-size="14" font-weight="normal" font-style="normal" >NS</text>
<text x="728.00" y="379.00" text-anchor="middle" font-size="14" font-weight="normal" font-style="normal" >wt</text>
<text x="788.30" y="379.00" text-anchor="middle" font-size="14" font-weight="normal" font-style="italic" >sfw –/–</text>
<text x="850.70" y="379.00" text-anchor="middle" font-size="14" font-weight="normal" font-style="italic" >dnaaf1 –/–</text>
<text x="912.60" y="379.00" text-anchor="middle" font-size="14" font-weight="normal" font-style="italic" >sfw –/–</text>
<text x="880.00" y="396.00" text-anchor="start" font-size="14" font-weight="normal" font-style="italic" >dnaaf1 –/–</text>
</svg>
</body></html>
